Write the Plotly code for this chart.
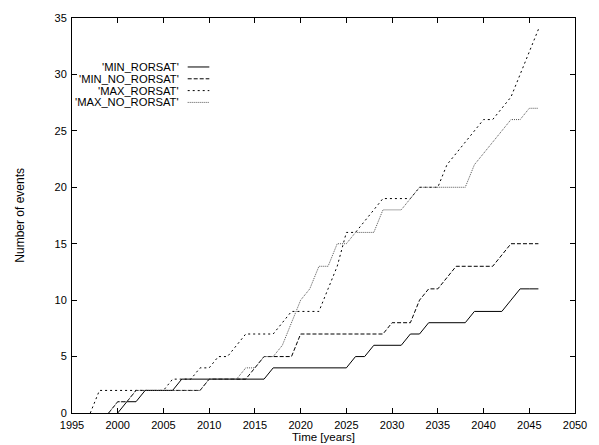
import plotly.graph_objects as go

# ---- data ----
years_min = list(range(2000, 2047))
min_rorsat = [0, 1, 1, 2, 2, 2, 2, 3, 3, 3,
              3, 3, 3, 3, 3, 3, 3, 4, 4, 4,
              4, 4, 4, 4, 4, 4, 5, 5, 6, 6,
              6, 6, 7, 7, 8, 8, 8, 8, 8, 9,
              9, 9, 9, 10, 11, 11, 11]

years_min_no = list(range(1999, 2047))
min_no_rorsat = [0, 1, 1, 2, 2, 2, 2, 2, 2, 2,
                 2, 3, 3, 3, 3, 3, 4, 5, 5, 5,
                 5, 7, 7, 7, 7, 7, 7, 7, 7, 7,
                 7, 8, 8, 8, 10, 11, 11, 12, 13, 13,
                 13, 13, 13, 14, 15, 15, 15, 15]

years_max = list(range(1997, 2047))
max_rorsat = [0, 2, 2, 2, 2, 2, 2, 2, 2, 3,
              3, 3, 4, 4, 5, 5, 6, 7, 7, 7,
              7, 8, 9, 9, 9, 9, 11, 13, 16, 16,
              17, 18, 19, 19, 19, 19, 20, 20, 20, 22,
              23, 24, 25, 26, 26, 27, 28, 30, 32, 34]

years_max_no = list(range(1999, 2047))
max_no_rorsat = [0, 1, 1, 2, 2, 2, 2, 2, 2, 2,
                 2, 3, 3, 3, 3, 4, 4, 5, 5, 6,
                 8, 10, 11, 13, 13, 15, 15, 16, 16, 16,
                 18, 18, 18, 19, 20, 20, 20, 20, 20, 20,
                 22, 23, 24, 25, 26, 26, 27, 27]

series_names = ["'MIN_RORSAT'", "'MIN_NO_RORSAT'", "'MAX_RORSAT'", "'MAX_NO_RORSAT'"]
x_ticks = list(range(1995, 2051, 5))
y_ticks = list(range(0, 36, 5))

# ---- styles ----
styles = [
    dict(color="black", dash="solid"),
    dict(color="black", dash="4px,2px"),
    dict(color="black", dash="2px,3px"),
    dict(color="#555555", dash="1px,1px"),
]
xs = [years_min, years_min_no, years_max, years_max_no]
ys = [min_rorsat, min_no_rorsat, max_rorsat, max_no_rorsat]

fig = go.Figure()
for name, x, y, st in zip(series_names, xs, ys, styles):
    fig.add_trace(go.Scatter(x=x, y=y, mode="lines", name=name,
                             line=dict(color=st["color"], dash=st["dash"], width=1),
                             showlegend=False, hoverinfo="skip"))

FONT = "Liberation Sans, Arial, sans-serif"

# custom gnuplot-like legend: right-aligned text, sample line to the right
leg_top = 0.876
leg_step = 0.0299
for i, (name, st) in enumerate(zip(series_names, styles)):
    yy = leg_top - i * leg_step
    fig.add_annotation(x=0.216, y=yy, xref="paper", yref="paper", text=name,
                       showarrow=False, xanchor="right", yanchor="middle",
                       font=dict(family=FONT, size=11.2, color="black"))
    fig.add_shape(type="line", xref="paper", yref="paper",
                  x0=0.230, x1=0.273, y0=yy, y1=yy,
                  line=dict(color=st["color"], dash=st["dash"], width=1))

fig.add_annotation(x=0.5, y=-0.062, xref="paper", yref="paper", text="Time [years]",
                   showarrow=False, xanchor="center", yanchor="middle",
                   font=dict(family=FONT, size=11.5, color="black"))
fig.add_annotation(x=-0.105, y=0.5, xref="paper", yref="paper", text="Number of events",
                   showarrow=False, textangle=-90, xanchor="center", yanchor="middle",
                   font=dict(family=FONT, size=12, color="black"))

axis_common = dict(showline=True, linecolor="black", linewidth=1, mirror="ticks",
                   ticks="inside", ticklen=5, tickcolor="black", tickwidth=1,
                   showgrid=False, zeroline=False,
                   tickfont=dict(family=FONT, size=11, color="black"))

fig.update_layout(
    width=599, height=445,
    margin=dict(l=72, r=14, t=12, b=32),
    paper_bgcolor="white", plot_bgcolor="white",
    xaxis=dict(range=[1995, 2050], tickvals=x_ticks, ticktext=[str(v) for v in x_ticks],
               ticklabelstandoff=2, **axis_common),
    yaxis=dict(range=[0, 35], tickvals=y_ticks, ticktext=[str(v) for v in y_ticks],
               ticklabelstandoff=2, **axis_common),
)

fig.write_html("out.html")
